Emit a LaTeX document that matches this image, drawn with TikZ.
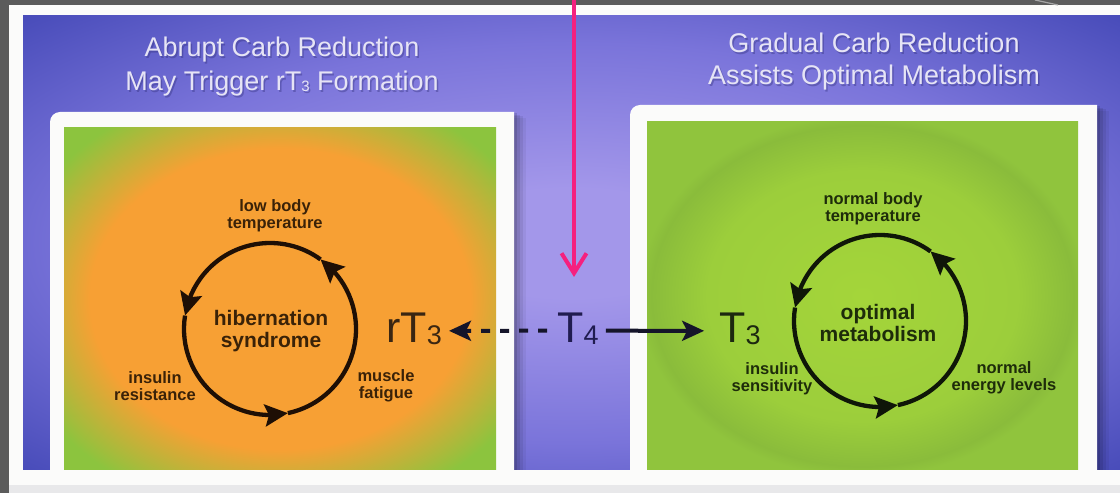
\documentclass[tikz,border=0pt]{standalone}
\usepackage{fontspec}
\setmainfont{Liberation Sans}
\usetikzlibrary{arrows.meta,bending,calc}
\definecolor{grayzero}{HTML}{5B5B5B}
\definecolor{offw}{HTML}{FBFBFA}
\definecolor{lgray}{HTML}{E8E8EA}
\definecolor{ora}{HTML}{F7A034}
\definecolor{grn}{HTML}{8CC43E}
\definecolor{lgrn}{HTML}{A4D53A}
\definecolor{m1grn}{HTML}{9CCE3B}
\definecolor{dgrn}{HTML}{8ABC3B}
\definecolor{mgrn}{HTML}{90C43D}
\definecolor{pcen}{HTML}{A397EA}
\definecolor{pmid}{HTML}{7A74DA}
\definecolor{pout}{HTML}{464AB8}
\definecolor{mypink}{HTML}{F5207F}
\definecolor{titlec}{HTML}{E6E4F5}
\definecolor{titlesh}{HTML}{2A2870}
\definecolor{brownt}{HTML}{3A2208}
\definecolor{greent}{HTML}{1E2C0A}
\definecolor{navyt}{HTML}{201C50}
\definecolor{rtc}{HTML}{3A2612}
\definecolor{tthree}{HTML}{1C2810}
\definecolor{cycL}{HTML}{1E0F05}
\definecolor{cycR}{HTML}{0F1608}
\definecolor{arrc}{HTML}{15152A}
\pgfdeclareradialshading{orglow}{\pgfpoint{0bp}{0bp}}{color(0bp)=(ora); color(22bp)=(ora); color(32bp)=(grn); color(50bp)=(grn)}
\pgfdeclareradialshading{grglow}{\pgfpoint{0bp}{0bp}}{color(0bp)=(lgrn); color(18bp)=(m1grn); color(24.5bp)=(dgrn); color(26bp)=(mgrn); color(50bp)=(mgrn)}
\pgfdeclareradialshading{purp}{\pgfpoint{0bp}{0bp}}{color(0bp)=(pcen); color(6bp)=(pcen); color(22bp)=(pmid); color(36bp)=(pout); color(50bp)=(pout)}
\newcommand\bigsub[1]{\raisebox{-2pt}{\fontsize{27}{27}\selectfont #1}}
\begin{document}
\begin{tikzpicture}[x=1pt,y=1pt,
  titletxt/.style={font=\fontsize{27}{30}\selectfont, text=titlec, inner sep=0pt, anchor=base},
  titleshadow/.style={font=\fontsize{27}{30}\selectfont, text=titlesh, opacity=0.35, inner sep=0pt, anchor=base},
  lbl/.style={font=\bfseries\fontsize{16.5}{17}\selectfont, align=center, inner sep=0pt},
  biglbl/.style={font=\bfseries\fontsize{21}{22}\selectfont, align=center, inner sep=0pt},
  hormone/.style={font=\fontsize{43}{43}\selectfont, inner sep=0pt, anchor=base},
  cyc/.style={line width=4.3pt, -{Stealth[length=23pt,width=22pt,inset=4pt]}},
  link/.style={line width=4pt, arrc},
  pinkarrow/.style={mypink, line width=4pt, -{Straight Barb[length=20pt,width=25pt,line width=4pt]}}]
\useasboundingbox (0,0) rectangle (1120,493);
% page background
\fill[grayzero] (0,0) rectangle (1120,493);
\fill[offw] (9,0) rectangle (1120,488);
\fill[lgray] (9,0) rectangle (1120,8);
\draw[gray!70, line width=1.2pt] (1035,493) -- (1058,488);
\shade[shading=purp] (23,23) rectangle (1120,477);
% panel shadows
\foreach \o/\a in {12/0.05,9/0.07,6/0.09,3/0.12}{
  \fill[black, opacity=\a] (54+\o,23) rectangle (514+\o,381-\o/2);
  \fill[black, opacity=\a] (634+\o,23) rectangle (1097+\o,388-\o/2);
}
% left panel
\fill[offw] (50,23) -- (50,371) arc[start angle=180,end angle=90,radius=10] -- (514,381) -- (514,23) -- cycle;
\shade[shading=orglow] (64,23) rectangle (496,365);
% right panel
\fill[offw] (630,23) -- (630,378) arc[start angle=180,end angle=90,radius=10] -- (1097,388) -- (1097,23) -- cycle;
\shade[shading=grglow] (647,23) rectangle (1078,371);
% titles
\node[titleshadow] (ts1) at (283.5,434) {Abrupt Carb Reduction};
\node[titleshadow] (ts2) at (283.5,400) {May Trigger rT\raisebox{-1pt}{\fontsize{15}{15}\selectfont 3} Formation};
\node[titleshadow] (ts3) at (875.5,438) {Gradual Carb Reduction};
\node[titleshadow] (ts4) at (875.5,406) {Assists Optimal Metabolism};
\node[titletxt] (t1) at (282,436) {Abrupt Carb Reduction};
\node[titletxt] (t2) at (282,402) {May Trigger rT\raisebox{-1pt}{\fontsize{15}{15}\selectfont 3} Formation};
\node[titletxt] (t3) at (874,440) {Gradual Carb Reduction};
\node[titletxt] (t4) at (874,408) {Assists Optimal Metabolism};
% left cycle
\coordinate (cL) at (270,164);
\draw[cyc, cycL] ($(cL)+(282:86)$) arc[start angle=282, end angle=414, radius=86];
\draw[cyc, cycL] ($(cL)+(54:86)$) arc[start angle=54, end angle=171, radius=86];
\draw[cyc, cycL] ($(cL)+(171:86)$) arc[start angle=171, end angle=282, radius=86];
\node[lbl, text=brownt] (lbt) at (275,277) {low body\\temperature};
\node[biglbl, text=brownt] (hib) at (271,162) {hibernation\\syndrome};
\node[lbl, text=brownt] (ires) at (155,107) {insulin\\resistance};
\node[lbl, text=brownt] (mfat) at (386,107) {muscle\\fatigue};
% right cycle
\coordinate (cR) at (880,172);
\draw[cyc, cycR] ($(cR)+(282:86)$) arc[start angle=282, end angle=414, radius=86];
\draw[cyc, cycR] ($(cR)+(54:86)$) arc[start angle=54, end angle=171, radius=86];
\draw[cyc, cycR] ($(cR)+(171:86)$) arc[start angle=171, end angle=282, radius=86];
\node[lbl, text=greent] (nbt) at (873,284.5) {normal body\\temperature};
\node[biglbl, text=greent] (opt) at (878,170.5) {optimal\\metabolism};
\node[lbl, text=greent] (isen) at (772,114) {insulin\\sensitivity};
\node[lbl, text=greent] (nel) at (1004,115.5) {normal\\energy levels};
% hormones
\node[hormone, text=rtc] (rT3) at (414,150) {rT\bigsub{3}};
\node[hormone, text=navyt] (T4) at (578,150) {T\bigsub{4}};
\node[hormone, text=tthree] (T3) at (740,150) {T\bigsub{3}};
\draw[link, dash pattern=on 9pt off 10pt, -{Stealth[length=22pt,width=20pt,inset=5pt]}]
  ([shift={(-10,-1.5)}]T4.west) -- ([shift={(7,-1.5)}]rT3.east);
\draw[link, -{Stealth[length=22pt,width=20pt,inset=5pt]}]
  ([shift={(7,-1.5)}]T4.east) -- ([shift={(-15,-1.5)}]T3.west);
% pink pointer
\coordinate (ptop) at (574,493);
\coordinate (ptip) at (574,216);
\draw[pinkarrow] (ptop) -- (ptip);
\end{tikzpicture}
\end{document}
